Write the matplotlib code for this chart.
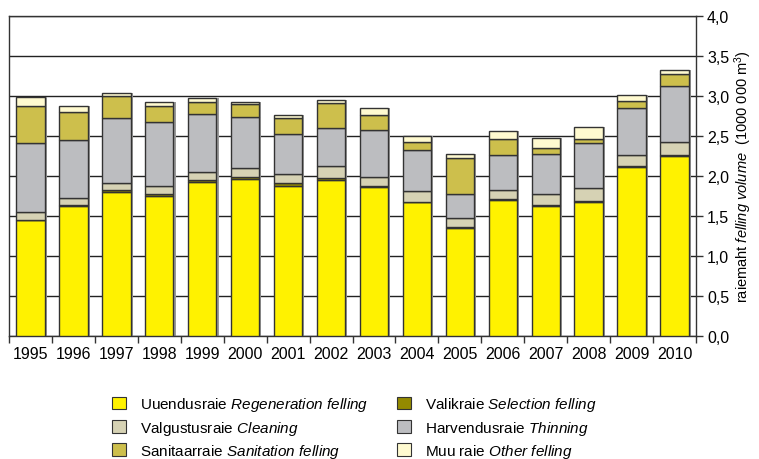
import numpy as np
import matplotlib
matplotlib.use("Agg")
import matplotlib.pyplot as plt
from matplotlib.patches import Patch

plt.rcParams['font.family'] = ['Liberation Sans', 'DejaVu Sans']
plt.rcParams['mathtext.fontset'] = 'custom'
plt.rcParams['mathtext.rm'] = 'Liberation Sans'
plt.rcParams['mathtext.it'] = 'Liberation Sans:italic'

years = ['1995', '1996', '1997', '1998', '1999', '2000', '2001', '2002',
         '2003', '2004', '2005', '2006', '2007', '2008', '2009', '2010']

# million m3 (stack order bottom -> top)
regeneration = [1.45, 1.63, 1.80, 1.75, 1.925, 1.96, 1.88, 1.95,
                1.86, 1.67, 1.35, 1.70, 1.625, 1.68, 2.11, 2.25]
selection = [0.005, 0.005, 0.02, 0.03, 0.025, 0.03, 0.03, 0.025,
             0.015, 0.01, 0.01, 0.01, 0.01, 0.01, 0.01, 0.01]
cleaning = [0.09, 0.09, 0.09, 0.10, 0.10, 0.11, 0.115, 0.145,
            0.115, 0.13, 0.115, 0.12, 0.135, 0.155, 0.14, 0.16]
thinning = [0.865, 0.73, 0.82, 0.795, 0.72, 0.64, 0.505, 0.48,
            0.59, 0.52, 0.295, 0.43, 0.50, 0.565, 0.59, 0.71]
sanitation = [0.46, 0.35, 0.27, 0.205, 0.15, 0.16, 0.20, 0.31,
              0.18, 0.10, 0.45, 0.20, 0.08, 0.05, 0.09, 0.15]
other = [0.12, 0.07, 0.04, 0.04, 0.06, 0.025, 0.03, 0.04,
         0.09, 0.07, 0.055, 0.10, 0.12, 0.15, 0.07, 0.05]

series = [
    ('Uuendusraie $\\it{Regeneration\\ felling}$', regeneration, '#fff200'),
    ('Valikraie $\\it{Selection\\ felling}$', selection, '#948a00'),
    ('Valgustusraie $\\it{Cleaning}$', cleaning, '#d6d2b4'),
    ('Harvendusraie $\\it{Thinning}$', thinning, '#bcbdc0'),
    ('Sanitaarraie $\\it{Sanitation\\ felling}$', sanitation, '#cdbf4c'),
    ('Muu raie $\\it{Other\\ felling}$', other, '#fffad0'),
]

fig = plt.figure(figsize=(7.59, 4.60), dpi=100)
ax = fig.add_axes([0.0119, 0.2674, 0.9051, 0.6956])

x = np.arange(len(years))
width = 0.66
bottom = np.zeros(len(years))
for label, vals, col in series:
    vals = np.array(vals)
    # grey drop shadow on the right side of each bar
    ax.bar(x + 0.05, vals, width, bottom=bottom, color='#9a9a9a',
           edgecolor='none', zorder=2)
    ax.bar(x, vals, width, bottom=bottom, color=col, edgecolor='#333333',
           linewidth=1.0, zorder=3)
    bottom += vals

ax.set_xlim(-0.5, len(years) - 0.5)
ax.set_ylim(0, 4.0)
ax.set_yticks(np.arange(0, 4.01, 0.5))
ax.set_yticklabels([f'{v:.1f}'.replace('.', ',') for v in np.arange(0, 4.01, 0.5)])
ax.yaxis.tick_right()
ax.grid(axis='y', color='#222222', linewidth=1.0, zorder=1)
ax.set_axisbelow(True)

ax.set_xticks(x)
ax.set_xticklabels(years)
ax.set_xticks(np.arange(-0.5, len(years), 1.0), minor=True)
ax.tick_params(axis='x', which='major', length=0, pad=7, labelsize=11.5)
ax.tick_params(axis='x', which='minor', length=5, width=1, color='#333333')
ax.tick_params(axis='y', length=5, width=1, color='#333333', pad=3, labelsize=11.5)

for s in ax.spines.values():
    s.set_color('#333333')
    s.set_linewidth(1.0)

ax.yaxis.set_label_position('right')
ax.set_ylabel('raiemaht $\\it{felling\\ volume}$  (1000 000 m$^3$)',
              fontsize=10.5, labelpad=2)

order = [0, 2, 4, 1, 3, 5]
handles = [Patch(facecolor=series[i][2], edgecolor='#333333', linewidth=0.8)
           for i in order]
labels = [series[i][0] for i in order]
fig.legend(handles, labels, ncol=2, loc='upper left',
           bbox_to_anchor=(0.138, 0.155), frameon=False, fontsize=11,
           handlelength=0.9, handleheight=0.9, handletextpad=0.9,
           columnspacing=1.9, labelspacing=0.35, borderpad=0)

fig.savefig('out.png', dpi=100)
